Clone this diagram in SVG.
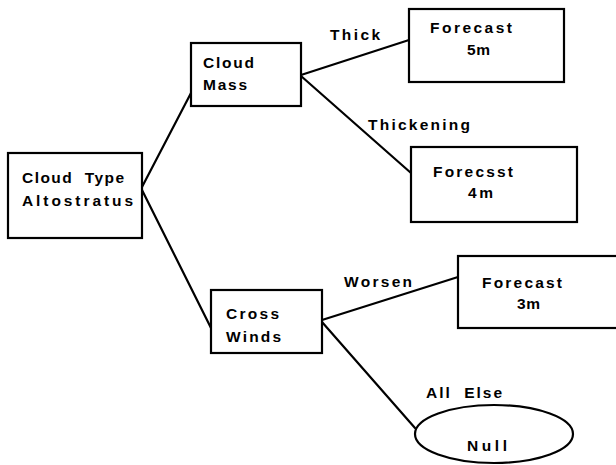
<svg xmlns="http://www.w3.org/2000/svg" width="616" height="465" viewBox="0 0 616 465">
<style>
.box{fill:#fff;stroke:#000;stroke-width:2.2}
.edge{stroke:#000;stroke-width:2.2;fill:none;stroke-linecap:round}
text{font-family:"Liberation Sans",Arial,sans-serif;font-weight:bold;font-size:15.5px;fill:#000}
</style>
<rect width="616" height="465" fill="#fff"/>
<g id="connectors">
<line class="edge" x1="142" y1="187" x2="191" y2="93"/>
<line class="edge" x1="142" y1="190" x2="211" y2="328"/>
<line class="edge" x1="301" y1="75" x2="409" y2="40"/>
<line class="edge" x1="301" y1="76" x2="411" y2="173"/>
<line class="edge" x1="322" y1="320" x2="458" y2="277"/>
<line class="edge" x1="322" y1="322" x2="415" y2="428"/>
<text x="330" y="40" textLength="50" lengthAdjust="spacing">Thick</text>
<text x="368" y="130" textLength="102" lengthAdjust="spacing">Thickening</text>
<text x="344" y="287" textLength="68" lengthAdjust="spacing">Worsen</text>
<text x="426" y="398" textLength="76" lengthAdjust="spacing" xml:space="preserve">All  Else</text>
</g>
<g id="root">
<rect class="box" x="8" y="153" width="134" height="85"/>
<text x="22" y="183" textLength="102" lengthAdjust="spacing" xml:space="preserve">Cloud  Type</text>
<text x="22" y="206" textLength="111" lengthAdjust="spacing">Altostratus</text>
</g>
<g id="cloudmass">
<rect class="box" x="191" y="43" width="110" height="63"/>
<text x="203" y="68" textLength="51" lengthAdjust="spacing">Cloud</text>
<text x="203" y="90" textLength="44" lengthAdjust="spacing">Mass</text>
</g>
<g id="forecast5m">
<rect class="box" x="409" y="9" width="155" height="73"/>
<text x="430" y="33" textLength="82" lengthAdjust="spacing">Forecast</text>
<text x="467" y="55" textLength="23" lengthAdjust="spacing">5m</text>
</g>
<g id="forecast4m">
<rect class="box" x="411" y="147" width="166" height="75"/>
<text x="433" y="177" textLength="80" lengthAdjust="spacing">Forecsst</text>
<text x="468" y="198" textLength="25" lengthAdjust="spacing">4m</text>
</g>
<g id="crosswinds">
<rect class="box" x="211" y="290" width="111" height="63"/>
<text x="226" y="319" textLength="53" lengthAdjust="spacing">Cross</text>
<text x="226" y="342" textLength="55" lengthAdjust="spacing">Winds</text>
</g>
<g id="forecast3m">
<rect class="box" x="458" y="256" width="170" height="72"/>
<text x="482" y="288" textLength="80" lengthAdjust="spacing">Forecast</text>
<text x="517" y="309" textLength="23" lengthAdjust="spacing">3m</text>
</g>
<g id="null">
<ellipse class="box" cx="494" cy="434" rx="79" ry="29"/>
<text x="467" y="451" textLength="40" lengthAdjust="spacing">Null</text>
</g>
</svg>
